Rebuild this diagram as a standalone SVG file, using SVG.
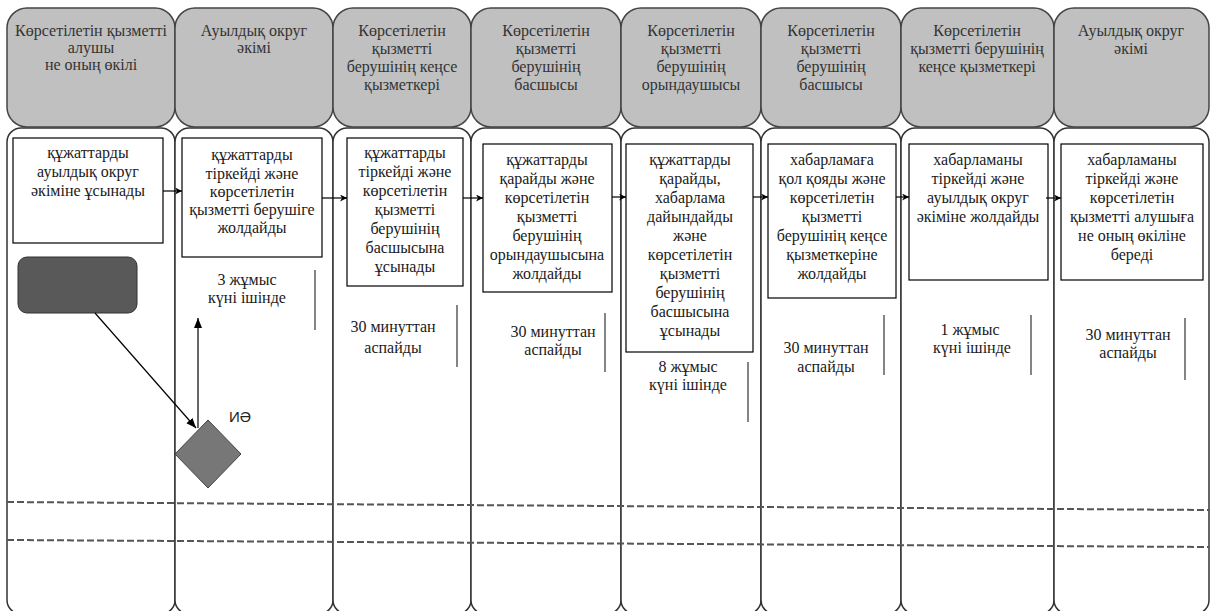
<svg xmlns="http://www.w3.org/2000/svg" width="1211" height="611" viewBox="0 0 1211 611">
<defs>
<marker id="ah" viewBox="0 0 10 10" refX="10" refY="5" markerWidth="7" markerHeight="7" orient="auto" markerUnits="userSpaceOnUse"><path d="M0,0 L10,5 L0,10 L3,5 z" fill="#000"/></marker>
<marker id="ah2" viewBox="0 0 10 10" refX="10" refY="5" markerWidth="10" markerHeight="10" orient="auto" markerUnits="userSpaceOnUse"><path d="M0,1 L10,5 L0,9 z" fill="#000"/></marker>
</defs>
<style>
.hdr{fill:#c0c0c0;stroke:#444;stroke-width:1.5}
.lane{fill:#fff;stroke:#333;stroke-width:1.5}
.box{fill:#fff;stroke:#000;stroke-width:1.2}
.ht{font-family:"Liberation Serif","Times New Roman",serif;font-size:16px;fill:#333;text-anchor:middle}
.bt{font-family:"Liberation Serif","Times New Roman",serif;font-size:16px;fill:#1a1a1a;text-anchor:middle}
.tt{font-family:"Liberation Serif","Times New Roman",serif;font-size:16px;fill:#1a1a1a;text-anchor:middle}
.bar{stroke:#333;stroke-width:1.2}
.con{stroke:#000;stroke-width:1.2;fill:none}
.dash{stroke:#555;stroke-width:2;stroke-dasharray:7,3;fill:none}
</style>
<rect width="1211" height="611" fill="#fff"/>

<g id="lanes">
<rect class="lane" x="7" y="128" width="168" height="486" rx="14"/>
<rect class="lane" x="175" y="128" width="158" height="486" rx="14"/>
<rect class="lane" x="333" y="128" width="138" height="486" rx="14"/>
<rect class="lane" x="471" y="128" width="150" height="486" rx="14"/>
<rect class="lane" x="621" y="128" width="140" height="486" rx="14"/>
<rect class="lane" x="761" y="128" width="140" height="486" rx="14"/>
<rect class="lane" x="901" y="128" width="153" height="486" rx="14"/>
<rect class="lane" x="1054" y="128" width="155" height="486" rx="14"/>
</g>

<g id="headers">
<g id="h1"><rect class="hdr" x="7" y="8" width="168" height="119" rx="20"/>
<text class="ht"><tspan x="91" y="36">Көрсетілетін қызметті</tspan><tspan x="91" y="53">алушы</tspan><tspan x="91" y="70">не оның өкілі</tspan></text></g>
<g id="h2"><rect class="hdr" x="175" y="8" width="158" height="119" rx="20"/>
<text class="ht"><tspan x="254" y="36">Ауылдық округ</tspan><tspan x="254" y="53">әкімі</tspan></text></g>
<g id="h3"><rect class="hdr" x="333" y="8" width="138" height="119" rx="20"/>
<text class="ht"><tspan x="402" y="36">Көрсетілетін</tspan><tspan x="402" y="54">қызметті</tspan><tspan x="402" y="72">берушінің кеңсе</tspan><tspan x="402" y="90">қызметкері</tspan></text></g>
<g id="h4"><rect class="hdr" x="471" y="8" width="150" height="119" rx="20"/>
<text class="ht"><tspan x="546" y="36">Көрсетілетін</tspan><tspan x="546" y="54">қызметті</tspan><tspan x="546" y="72">берушінің</tspan><tspan x="546" y="90">басшысы</tspan></text></g>
<g id="h5"><rect class="hdr" x="621" y="8" width="140" height="119" rx="20"/>
<text class="ht"><tspan x="691" y="36">Көрсетілетін</tspan><tspan x="691" y="54">қызметті</tspan><tspan x="691" y="72">берушінің</tspan><tspan x="691" y="90">орындаушысы</tspan></text></g>
<g id="h6"><rect class="hdr" x="761" y="8" width="140" height="119" rx="20"/>
<text class="ht"><tspan x="831" y="36">Көрсетілетін</tspan><tspan x="831" y="54">қызметті</tspan><tspan x="831" y="72">берушінің</tspan><tspan x="831" y="90">басшысы</tspan></text></g>
<g id="h7"><rect class="hdr" x="901" y="8" width="153" height="119" rx="20"/>
<text class="ht"><tspan x="977" y="36">Көрсетілетін</tspan><tspan x="977" y="54">қызметті берушінің</tspan><tspan x="977" y="72">кеңсе қызметкері</tspan></text></g>
<g id="h8"><rect class="hdr" x="1054" y="8" width="155" height="119" rx="20"/>
<text class="ht"><tspan x="1131" y="36">Ауылдық округ</tspan><tspan x="1131" y="54">әкімі</tspan></text></g>
</g>

<g id="b1"><rect class="box" x="13" y="138" width="150" height="105"/>
<text class="bt"><tspan x="88" y="158">құжаттарды</tspan><tspan x="88" y="177">ауылдық округ</tspan><tspan x="88" y="196">әкіміне ұсынады</tspan></text></g>
<g id="b2"><rect class="box" x="182" y="138" width="140" height="119"/>
<text class="bt"><tspan x="252" y="160">құжаттарды</tspan><tspan x="252" y="179">тіркейді және</tspan><tspan x="252" y="197">көрсетілетін</tspan><tspan x="252" y="215">қызметті берушіге</tspan><tspan x="252" y="233">жолдайды</tspan></text></g>
<g id="b3"><rect class="box" x="347" y="138" width="116" height="148"/>
<text class="bt"><tspan x="405" y="158">құжаттарды</tspan><tspan x="405" y="177">тіркейді және</tspan><tspan x="405" y="196">көрсетілетін</tspan><tspan x="405" y="215">қызметті</tspan><tspan x="405" y="234">берушінің</tspan><tspan x="405" y="253">басшысына</tspan><tspan x="405" y="272">ұсынады</tspan></text></g>
<g id="b4"><rect class="box" x="483" y="144" width="129" height="148"/>
<text class="bt"><tspan x="547" y="165">құжаттарды</tspan><tspan x="547" y="184">қарайды және</tspan><tspan x="547" y="203">көрсетілетін</tspan><tspan x="547" y="222">қызметті</tspan><tspan x="547" y="241">берушінің</tspan><tspan x="547" y="260">орындаушысына</tspan><tspan x="547" y="279">жолдайды</tspan></text></g>
<g id="b5"><rect class="box" x="626" y="144" width="127" height="208"/>
<text class="bt"><tspan x="690" y="165">құжаттарды</tspan><tspan x="690" y="184">қарайды,</tspan><tspan x="690" y="203">хабарлама</tspan><tspan x="690" y="222">дайындайды</tspan><tspan x="690" y="241">және</tspan><tspan x="690" y="260">көрсетілетін</tspan><tspan x="690" y="279">қызметті</tspan><tspan x="690" y="298">берушінің</tspan><tspan x="690" y="317">басшысына</tspan><tspan x="690" y="336">ұсынады</tspan></text></g>
<g id="b6"><rect class="box" x="768" y="144" width="128" height="154"/>
<text class="bt"><tspan x="832" y="165">хабарламаға</tspan><tspan x="832" y="184">қол қояды және</tspan><tspan x="832" y="203">көрсетілетін</tspan><tspan x="832" y="222">қызметті</tspan><tspan x="832" y="241">берушінің кеңсе</tspan><tspan x="832" y="260">қызметкеріне</tspan><tspan x="832" y="279">жолдайды</tspan></text></g>
<g id="b7"><rect class="box" x="909" y="144" width="139" height="136"/>
<text class="bt"><tspan x="978" y="165">хабарламаны</tspan><tspan x="978" y="184">тіркейді және</tspan><tspan x="978" y="203">ауылдық округ</tspan><tspan x="978" y="222">әкіміне жолдайды</tspan></text></g>
<g id="b8"><rect class="box" x="1061" y="144" width="142" height="136"/>
<text class="bt"><tspan x="1132" y="165">хабарламаны</tspan><tspan x="1132" y="184">тіркейді және</tspan><tspan x="1132" y="203">көрсетілетін</tspan><tspan x="1132" y="222">қызметті алушыға</tspan><tspan x="1132" y="241">не оның өкіліне</tspan><tspan x="1132" y="260">береді</tspan></text></g>

<g id="start"><rect x="18" y="257" width="119" height="56" rx="9" fill="#595959" stroke="#333" stroke-width="1"/></g>
<g id="decision"><polygon points="208,420 241,454 208,488 175,454" fill="#777" stroke="#444" stroke-width="1"/>
<text x="229" y="422" font-family="Liberation Sans,sans-serif" font-size="15" fill="#222">ИӘ</text></g>

<g id="timings">
<text class="tt"><tspan x="247" y="285">3 жұмыс</tspan><tspan x="247" y="303">күні ішінде</tspan></text>
<line class="bar" x1="315" y1="270" x2="315" y2="330"/>
<text class="tt"><tspan x="393" y="332">30 минуттан</tspan><tspan x="393" y="353">аспайды</tspan></text>
<line class="bar" x1="457" y1="305" x2="457" y2="367"/>
<text class="tt"><tspan x="553" y="337">30 минуттан</tspan><tspan x="553" y="355">аспайды</tspan></text>
<line class="bar" x1="605" y1="313" x2="605" y2="372"/>
<text class="tt"><tspan x="688" y="372">8 жұмыс</tspan><tspan x="688" y="390">күні ішінде</tspan></text>
<line class="bar" x1="748" y1="362" x2="748" y2="422"/>
<text class="tt"><tspan x="826" y="353">30 минуттан</tspan><tspan x="826" y="372">аспайды</tspan></text>
<line class="bar" x1="884" y1="315" x2="884" y2="375"/>
<text class="tt"><tspan x="970" y="335">1 жұмыс</tspan><tspan x="972" y="353">күні ішінде</tspan></text>
<line class="bar" x1="1031" y1="315" x2="1031" y2="375"/>
<text class="tt"><tspan x="1128" y="340">30 минуттан</tspan><tspan x="1128" y="358">аспайды</tspan></text>
<line class="bar" x1="1185" y1="318" x2="1185" y2="380"/>
</g>

<g id="connectors">
<line class="con" x1="163" y1="191" x2="182" y2="191" marker-end="url(#ah)"/>
<line class="con" x1="322" y1="198" x2="347" y2="198" marker-end="url(#ah)"/>
<line class="con" x1="463" y1="198" x2="483" y2="198" marker-end="url(#ah)"/>
<line class="con" x1="612" y1="197" x2="626" y2="197" marker-end="url(#ah)"/>
<line class="con" x1="753" y1="197" x2="768" y2="197" marker-end="url(#ah)"/>
<line class="con" x1="896" y1="197" x2="909" y2="197" marker-end="url(#ah)"/>
<line class="con" x1="1046" y1="198" x2="1061" y2="198" marker-end="url(#ah)"/>
<line class="con" x1="95" y1="313" x2="196" y2="428" marker-end="url(#ah2)"/>
<line class="con" x1="198" y1="428" x2="198" y2="318" marker-end="url(#ah2)"/>
<path class="dash" d="M7,502 L1209,510"/>
<path class="dash" d="M7,540 L1209,547"/>
</g>
</svg>
